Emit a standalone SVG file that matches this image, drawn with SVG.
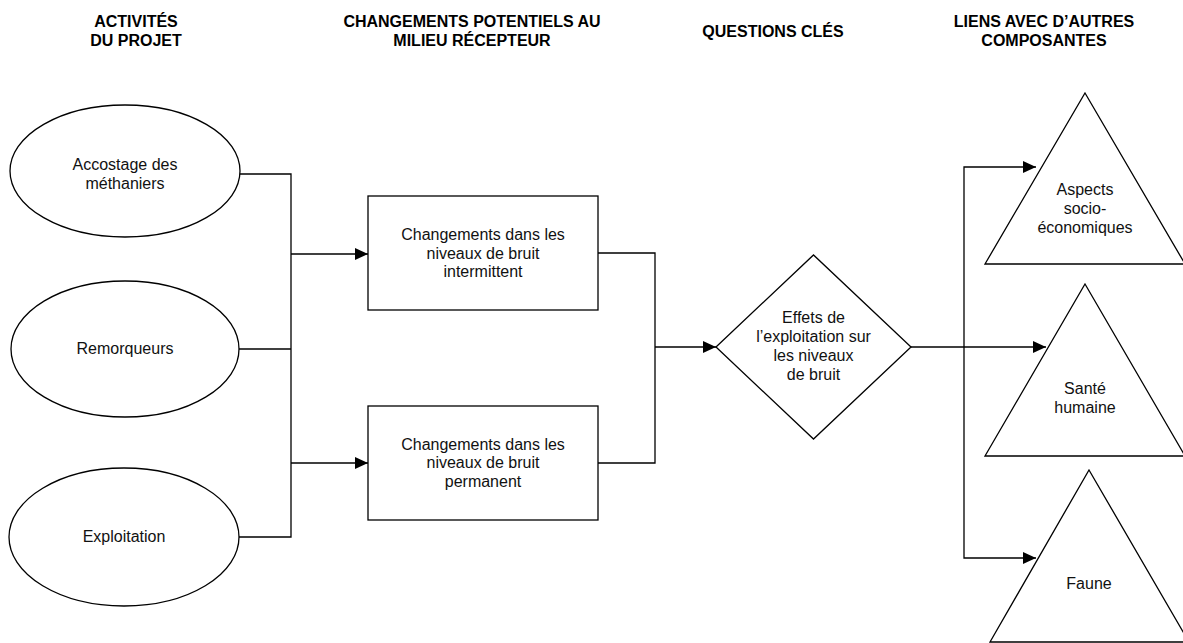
<svg xmlns="http://www.w3.org/2000/svg" width="1183" height="643" viewBox="0 0 1183 643">
  <style>
    .hdr { font-family: "Liberation Sans", Arial, sans-serif; font-size: 16px; font-weight: bold; fill: #000; text-anchor: middle; }
    .lbl { font-family: "Liberation Sans", Arial, sans-serif; font-size: 16px; fill: #111; text-anchor: middle; }
    .shape { fill: #fff; stroke: #000; stroke-width: 1.3; }
    .wire { fill: none; stroke: #000; stroke-width: 1.3; }
    .arrow { fill: none; stroke: #000; stroke-width: 1.3; marker-end: url(#head); }
  </style>
  <defs>
    <marker id="head" markerUnits="userSpaceOnUse" markerWidth="14" markerHeight="12" refX="13" refY="6" orient="auto">
      <path d="M0,0 L13,6 L0,12 Z" fill="#000"/>
    </marker>
  </defs>
  <rect width="1183" height="643" fill="#fff"/>

  <!-- Column headings -->
  <g id="headings">
    <text class="hdr" x="136" y="27">ACTIVITÉS</text>
    <text class="hdr" x="136" y="46">DU PROJET</text>
    <text class="hdr" x="472" y="27">CHANGEMENTS POTENTIELS AU</text>
    <text class="hdr" x="472" y="46">MILIEU RÉCEPTEUR</text>
    <text class="hdr" x="773" y="37">QUESTIONS CLÉS</text>
    <text class="hdr" x="1044" y="27">LIENS AVEC D’AUTRES</text>
    <text class="hdr" x="1044" y="46">COMPOSANTES</text>
  </g>

  <!-- Connectors -->
  <g id="connectors">
    <polyline class="wire" points="240,174 291,174 291,537 239,537"/>
    <line class="wire" x1="239" y1="349" x2="291" y2="349"/>
    <line class="arrow" x1="291" y1="254" x2="368" y2="254"/>
    <line class="arrow" x1="291" y1="463" x2="368" y2="463"/>
    <polyline class="wire" points="598,253 655,253 655,463 598,463"/>
    <line class="arrow" x1="655" y1="347" x2="716" y2="347"/>
    <line class="arrow" x1="911" y1="347" x2="1046" y2="347"/>
    <polyline class="arrow" points="964,347 964,167 1036,167"/>
    <polyline class="arrow" points="964,347 964,558 1036,558"/>
  </g>

  <!-- Project activities -->
  <g id="accostage">
    <ellipse class="shape" cx="125" cy="171" rx="115" ry="66"/>
    <text class="lbl" x="125" y="170">Accostage des</text>
    <text class="lbl" x="125" y="188.5">méthaniers</text>
  </g>
  <g id="remorqueurs">
    <ellipse class="shape" cx="125" cy="349" rx="114" ry="68"/>
    <text class="lbl" x="125" y="354">Remorqueurs</text>
  </g>
  <g id="exploitation">
    <ellipse class="shape" cx="124" cy="537" rx="115" ry="69"/>
    <text class="lbl" x="124" y="542">Exploitation</text>
  </g>

  <!-- Potential changes -->
  <g id="bruit-intermittent">
    <rect class="shape" x="368" y="196" width="230" height="114"/>
    <text class="lbl" x="483" y="240">Changements dans les</text>
    <text class="lbl" x="483" y="258.5">niveaux de bruit</text>
    <text class="lbl" x="483" y="277">intermittent</text>
  </g>
  <g id="bruit-permanent">
    <rect class="shape" x="368" y="406" width="230" height="114"/>
    <text class="lbl" x="483" y="449.5">Changements dans les</text>
    <text class="lbl" x="483" y="468">niveaux de bruit</text>
    <text class="lbl" x="483" y="486.5">permanent</text>
  </g>

  <!-- Key question -->
  <g id="question">
    <polygon class="shape" points="716,347 813.5,255 911,347 813.5,439"/>
    <text class="lbl" x="813.5" y="323">Effets de</text>
    <text class="lbl" x="813.5" y="342">l’exploitation sur</text>
    <text class="lbl" x="813.5" y="361">les niveaux</text>
    <text class="lbl" x="813.5" y="380">de bruit</text>
  </g>

  <!-- Related components -->
  <g id="socio-economique">
    <polygon class="shape" points="1085,93 1185,264 985,264"/>
    <text class="lbl" x="1085" y="195">Aspects</text>
    <text class="lbl" x="1085" y="214">socio-</text>
    <text class="lbl" x="1085" y="233">économiques</text>
  </g>
  <g id="sante">
    <polygon class="shape" points="1085,284 1185,456 985,456"/>
    <text class="lbl" x="1085" y="394">Santé</text>
    <text class="lbl" x="1085" y="413">humaine</text>
  </g>
  <g id="faune">
    <polygon class="shape" points="1089,470 1189,642 990,642"/>
    <text class="lbl" x="1089" y="589">Faune</text>
  </g>
</svg>
